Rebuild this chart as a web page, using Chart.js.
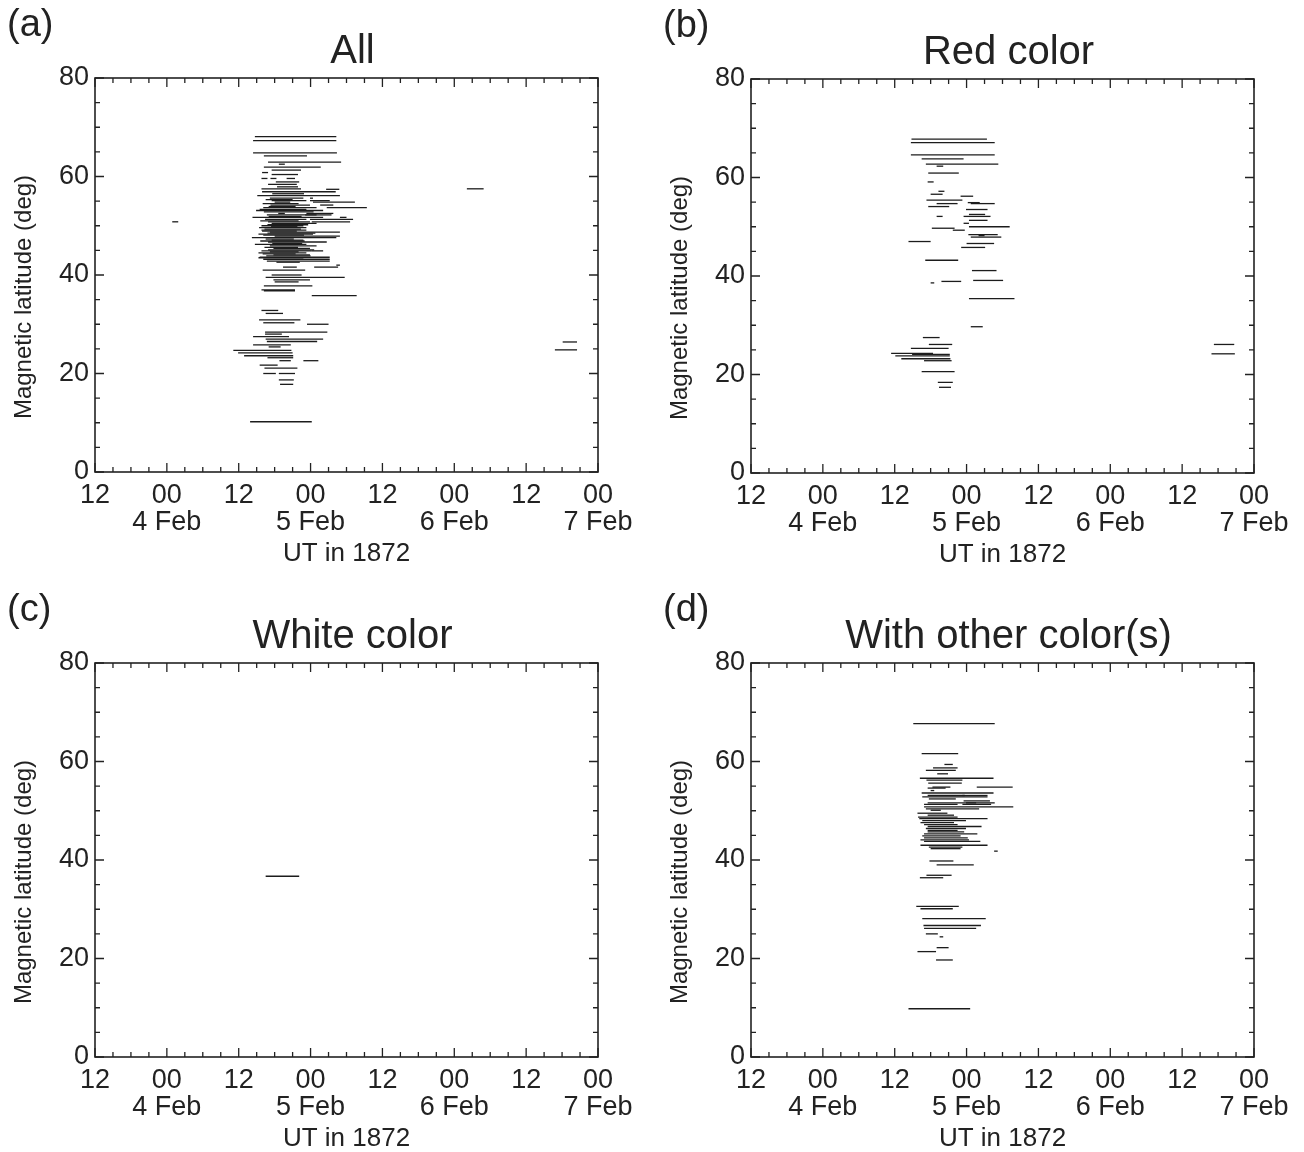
<!DOCTYPE html>
<html>
<head>
<meta charset="utf-8">
<title>Aurora latitudes, Feb 1872</title>
<script src="https://cdn.jsdelivr.net/npm/chart.js@4.4.1/dist/chart.umd.min.js"></script>
<style>
    body { margin: 0; background: #fff; }
    #wrap { position: relative; width: 1304px; height: 1152px; overflow: hidden; }
    #wrap canvas { position: absolute; }
</style>
</head>
<body>
<div id="wrap">
    <canvas id="chartA" width="648" height="576" style="left:0;top:0"></canvas>
    <canvas id="chartB" width="648" height="576" style="left:656px;top:1px"></canvas>
    <canvas id="chartC" width="648" height="576" style="left:0;top:585px"></canvas>
    <canvas id="chartD" width="648" height="576" style="left:656px;top:585px"></canvas>
</div>
<script>
    // Tick labels (x = hours from 4 Feb 00 UT)
    const hourLabels = ['12', '00'];
    const dayLabels = ['4 Feb', '5 Feb', '6 Feb', '7 Feb'];
    const latTicks = [0, 20, 40, 60, 80];

    // Each segment: [magnetic latitude, start hour, end hour]
    const allSegs = [
        [68.1, 14.7, 28.3], [67.3, 14.4, 28.3], [64.8, 14.4, 28.4], [64.2, 16.2, 23.4],
        [62.9, 16.9, 29.1], [62.5, 18.7, 19.7], [61.9, 16.2, 25.7], [61.3, 17.5, 22.4],
        [60.8, 15.9, 16.9], [60.4, 17.5, 21.9], [59.6, 15.8, 16.8], [59.6, 17.3, 18.3],
        [59.6, 20.0, 21.4], [58.9, 18.2, 22.1], [58.4, 16.9, 21.7], [57.9, 18.4, 21.9],
        [57.5, 15.8, 22.4], [57.4, 26.6, 28.8], [56.9, 15.9, 28.2], [56.5, 17.6, 22.9],
        [56.1, 15.1, 28.9], [55.6, 17.2, 22.8], [55.6, 23.9, 24.4], [55.3, 16.5, 21.0],
        [55.1, 17.5, 23.3], [55.1, 23.9, 27.2], [54.8, 18.0, 20.6], [54.8, 24.4, 31.4],
        [54.5, 16.0, 22.0], [54.2, 17.3, 23.9], [54.2, 25.6, 27.8], [53.9, 17.0, 21.5],
        [53.7, 16.1, 25.0], [53.7, 26.7, 33.4], [53.3, 15.5, 23.3], [53.1, 14.9, 26.1],
        [52.8, 16.2, 24.5], [52.5, 18.6, 19.7], [52.5, 23.3, 27.8], [52.2, 16.7, 25.0],
        [52.2, 23.1, 27.5], [51.9, 17.0, 22.5], [51.7, 14.3, 26.1], [51.7, 28.9, 30.0],
        [51.3, 16.4, 23.3], [51.3, 23.9, 31.1], [51.0, 15.6, 22.0], [50.8, 16.9, 23.9],
        [50.8, 24.2, 30.6], [50.5, 17.5, 25.0], [50.2, 16.8, 23.6], [50.0, 15.8, 22.8],
        [49.8, 17.4, 21.8], [49.6, 15.4, 23.3], [49.3, 16.3, 22.4], [49.1, 15.8, 23.3],
        [48.9, 15.9, 21.7], [48.7, 17.2, 28.9], [48.5, 16.8, 24.8], [48.3, 15.3, 24.4],
        [48.1, 16.1, 22.9], [47.9, 18.0, 28.9], [47.6, 14.2, 28.3], [47.3, 16.5, 21.2],
        [47.1, 17.5, 22.8], [46.9, 15.6, 23.0], [46.7, 16.9, 26.7], [46.4, 17.6, 22.6],
        [46.2, 14.7, 23.3], [45.9, 17.2, 25.0], [45.6, 16.3, 21.9], [45.4, 17.8, 23.9],
        [45.1, 16.9, 24.6], [44.9, 15.8, 24.2], [44.9, 24.2, 26.1], [44.7, 17.2, 22.0],
        [44.5, 15.3, 23.3], [44.3, 16.0, 21.5], [44.1, 17.8, 23.9], [43.9, 16.6, 24.0],
        [43.6, 15.5, 27.2], [43.5, 15.3, 22.8], [43.2, 16.1, 27.2], [42.8, 16.7, 27.2],
        [42.6, 18.3, 22.2], [42.0, 28.3, 28.9], [41.6, 19.4, 21.7], [41.6, 24.6, 28.6],
        [41.0, 16.0, 23.1], [40.0, 17.5, 22.5], [39.5, 16.5, 29.7], [39.0, 17.8, 23.9],
        [38.6, 18.0, 22.0], [37.8, 16.2, 24.3], [37.0, 15.8, 21.4], [36.8, 16.2, 21.4],
        [35.8, 24.2, 31.7], [32.8, 15.8, 18.6], [32.2, 16.5, 19.4], [30.9, 15.4, 22.3],
        [30.3, 16.1, 21.3], [30.0, 23.4, 27.0], [28.4, 16.4, 26.8], [28.0, 16.4, 19.2],
        [27.5, 14.4, 20.4], [27.0, 16.5, 26.1], [26.5, 16.7, 25.1], [25.8, 14.4, 20.7],
        [25.4, 17.0, 19.0], [24.7, 11.1, 20.8], [24.2, 11.9, 21.0], [23.6, 12.9, 21.1],
        [23.2, 16.8, 21.1], [22.6, 18.8, 20.7], [22.6, 22.8, 25.3], [21.7, 15.5, 18.5],
        [21.1, 16.3, 21.8], [20.0, 16.1, 18.2], [20.0, 18.7, 21.4], [18.7, 18.7, 21.2],
        [17.8, 18.9, 21.1], [10.2, 13.9, 24.2],
        [50.8, 0.9, 1.9], [57.5, 50.1, 52.9], [26.4, 66.1, 68.5], [24.8, 64.8, 68.5]
    ];

    const redSegs = [
        [67.8, 14.8, 27.4], [67.1, 14.7, 28.7], [64.6, 14.7, 28.7], [63.8, 16.5, 23.5],
        [62.7, 17.2, 29.3], [62.3, 19.0, 20.1], [60.9, 17.6, 22.7], [59.1, 17.5, 18.5],
        [57.2, 19.3, 20.3], [56.6, 18.0, 20.0], [56.2, 23.0, 25.1], [55.4, 17.3, 23.3],
        [54.9, 24.2, 26.2], [54.7, 19.0, 22.5], [54.7, 24.7, 28.7], [54.1, 17.6, 21.1],
        [53.5, 23.9, 27.5], [52.5, 24.4, 27.1], [52.1, 19.0, 20.0], [52.1, 23.5, 28.0],
        [51.3, 24.4, 27.5], [50.7, 23.5, 24.4], [50.0, 24.4, 31.2], [49.7, 18.2, 22.0],
        [49.3, 21.7, 23.7], [48.4, 24.3, 29.2], [48.2, 26.0, 27.0], [47.9, 24.7, 29.8],
        [47.0, 14.3, 18.0], [46.6, 24.0, 28.6], [45.8, 23.1, 27.1], [43.2, 17.1, 22.6],
        [41.1, 24.9, 29.0], [39.1, 25.1, 30.1], [38.9, 19.8, 23.1], [38.6, 18.0, 18.6],
        [35.4, 24.4, 32.0], [29.7, 24.7, 26.7], [27.5, 16.7, 19.5], [26.1, 17.7, 21.6],
        [25.3, 14.7, 21.0], [24.3, 11.4, 18.4], [24.1, 14.9, 21.2], [23.8, 12.1, 21.2],
        [23.2, 13.1, 21.3], [22.8, 16.9, 21.5], [20.6, 16.5, 22.0], [18.4, 19.2, 21.7],
        [17.4, 19.4, 21.4], [26.1, 65.3, 68.7], [24.2, 64.9, 68.8]
    ];

    const whiteSegs = [
        [36.7, 16.5, 22.1]
    ];

    const otherSegs = [
        [67.7, 15.1, 28.7], [61.6, 16.5, 22.6], [59.4, 20.3, 21.7], [58.7, 18.4, 22.5],
        [58.2, 17.2, 22.2], [57.5, 19.1, 20.9], [56.6, 16.2, 28.5], [56.2, 17.3, 23.3],
        [55.6, 17.6, 23.2], [54.8, 25.7, 31.7], [54.8, 18.3, 21.3], [54.6, 17.5, 20.5],
        [54.1, 18.0, 18.6], [53.6, 16.5, 28.5], [53.1, 17.5, 23.7], [53.1, 23.3, 27.5],
        [52.8, 16.6, 27.5], [52.4, 17.7, 22.2], [52.0, 23.5, 27.9], [51.6, 17.5, 25.6],
        [51.6, 23.9, 28.7], [51.3, 16.9, 22.5], [51.3, 23.3, 28.1], [50.8, 16.9, 31.8],
        [50.4, 17.2, 26.1], [50.1, 18.0, 19.7], [49.5, 15.8, 20.8], [49.1, 17.5, 21.9],
        [48.7, 15.9, 22.5], [48.4, 16.1, 27.5], [48.0, 16.6, 23.9], [47.6, 16.3, 21.9],
        [47.2, 16.9, 22.5], [46.8, 17.5, 26.5], [46.4, 17.2, 23.9], [46.0, 17.5, 22.5],
        [45.7, 17.5, 23.6], [45.3, 16.9, 25.8], [44.9, 16.6, 23.0], [44.5, 16.9, 24.2],
        [44.1, 16.3, 24.4], [43.8, 16.9, 26.3], [43.0, 16.3, 27.5], [42.6, 17.7, 23.3],
        [42.3, 18.0, 23.0], [41.8, 28.6, 29.2], [39.8, 17.8, 21.8], [39.0, 19.0, 25.2],
        [36.9, 17.3, 21.5], [36.4, 16.2, 20.1], [30.6, 15.6, 22.7], [30.1, 16.3, 21.7],
        [28.1, 16.6, 27.2], [26.7, 16.8, 26.4], [26.1, 16.9, 25.6], [25.0, 17.2, 19.2],
        [24.4, 19.5, 20.1], [22.2, 19.0, 21.0], [21.4, 15.8, 18.9], [19.7, 18.9, 21.7],
        [9.8, 14.3, 24.6]
    ];

    const FONT = "'Liberation Sans', Arial, Helvetica, sans-serif";
    const INK = '#222';

    Chart.defaults.font.family = FONT;
    Chart.defaults.color = INK;

    // üî≤ Frame + inward ticks on all four sides, panel letter, title, y-axis title
    const frameTicks = {
        id: 'frameTicks',
        afterDraw(chart, args, opts) {
            const { ctx, chartArea: a, scales: { x, y } } = chart;
            ctx.save();
            ctx.strokeStyle = INK;
            ctx.lineWidth = 1.6;
            ctx.strokeRect(a.left, a.top, a.right - a.left, a.bottom - a.top);

            ctx.lineWidth = 1.3;
            ctx.beginPath();
            for (let h = x.min; h <= x.max; h += 3) {
                const px = x.getPixelForValue(h);
                const len = (h % 12 === 0) ? 9 : 5;
                ctx.moveTo(px, a.bottom); ctx.lineTo(px, a.bottom - len);
                ctx.moveTo(px, a.top); ctx.lineTo(px, a.top + len);
            }
            for (let d = y.min; d <= y.max; d += 5) {
                const py = y.getPixelForValue(d);
                const len = (d % 20 === 0) ? 9 : 5;
                ctx.moveTo(a.left, py); ctx.lineTo(a.left + len, py);
                ctx.moveTo(a.right, py); ctx.lineTo(a.right - len, py);
            }
            ctx.stroke();

            ctx.fillStyle = INK;
            ctx.textBaseline = 'middle';
            ctx.textAlign = 'left';
            ctx.font = '38px ' + FONT;
            ctx.fillText(opts.letter, 7, 26);
            ctx.textAlign = 'center';
            ctx.font = '40px ' + FONT;
            ctx.fillText(opts.title, (a.left + a.right) / 2 + 6, 52);

            // y-axis title sits a little below the middle of the axis
            ctx.font = '24px ' + FONT;
            ctx.translate(24, (a.top + a.bottom) / 2 + 22);
            ctx.rotate(-Math.PI / 2);
            ctx.fillText('Magnetic latitude (deg)', 0, 0);
            ctx.restore();
        }
    };

    function segDatasets(segs) {
        return segs.map(([lat, t0, t1]) => ({
            data: [{ x: t0, y: lat }, { x: t1, y: lat }],
            showLine: true,
            borderColor: '#1c1c1c',
            borderWidth: 1.3,
            pointRadius: 0,
            pointHoverRadius: 0
        }));
    }

    function renderPanel(canvasId, segs, letter, title) {
        const ctx = document.getElementById(canvasId).getContext('2d');
        return new Chart(ctx, {
            type: 'scatter',
            data: { datasets: segDatasets(segs) },
            options: {
                responsive: false,
                animation: false,
                devicePixelRatio: 1,
                layout: { padding: { left: 0, top: 78, right: 50, bottom: 0 } },
                scales: {
                    x: {
                        type: 'linear',
                        min: -12,
                        max: 72,
                        grid: { display: false, drawTicks: false },
                        border: { display: false },
                        ticks: {
                            stepSize: 12,
                            autoSkip: false,
                            maxRotation: 0,
                            padding: 10,
                            font: { size: 27, lineHeight: 1.0 },
                            color: INK,
                            callback: v => (v % 24 === 0) ? [hourLabels[1], dayLabels[v / 24]] : hourLabels[0]
                        },
                        title: {
                            display: true,
                            text: 'UT in 1872',
                            color: INK,
                            font: { size: 26 },
                            padding: { top: 0, bottom: 7 }
                        },
                        afterFit: s => { s.height = 104; }
                    },
                    y: {
                        min: 0,
                        max: 80,
                        grid: { display: false, drawTicks: false },
                        border: { display: false },
                        afterBuildTicks: s => { s.ticks = latTicks.map(v => ({ value: v })); },
                        ticks: {
                            padding: 6,
                            font: { size: 27 },
                            color: INK
                        },
                        title: { display: false },
                        afterFit: s => { s.width = 95; }
                    }
                },
                plugins: {
                    legend: { display: false },
                    tooltip: { enabled: false },
                    frameTicks: { letter: letter, title: title }
                }
            },
            plugins: [frameTicks]
        });
    }

    document.addEventListener('DOMContentLoaded', function () {
        renderPanel('chartA', allSegs, '(a)', 'All');
        renderPanel('chartB', redSegs, '(b)', 'Red color');
        renderPanel('chartC', whiteSegs, '(c)', 'White color');
        renderPanel('chartD', otherSegs, '(d)', 'With other color(s)');
    });
</script>
</body>
</html>
